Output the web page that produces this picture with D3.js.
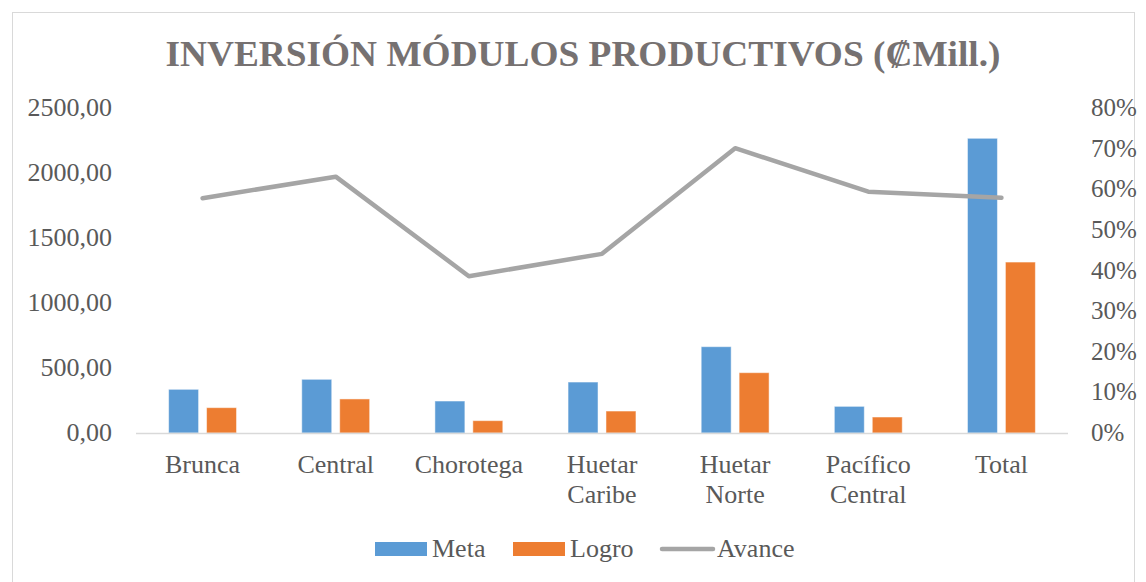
<!DOCTYPE html>
<html>
  <head>
    <meta charset="utf-8">
    <script src="https://d3js.org/d3.v7.min.js"></script>
    <style>
      body { margin: 0; background: #fff; }
      text { font-family: "Liberation Serif", "Times New Roman", serif; fill: #595959; }
    </style>
  </head>
  <body>
    <script>

    const categories = [["Brunca"], ["Central"], ["Chorotega"], ["Huetar", "Caribe"], ["Huetar", "Norte"], ["Pacífico", "Central"], ["Total"]];
    const meta = [336, 413, 246, 392, 664, 205, 2267];
    const logro = [195, 262, 95, 169, 464, 123, 1315];
    const avance = [0.578, 0.631, 0.386, 0.441, 0.701, 0.594, 0.579];
    const leftTicks = [0, 500, 1000, 1500, 2000, 2500];
    const rightTicks = [0, 0.1, 0.2, 0.3, 0.4, 0.5, 0.6, 0.7, 0.8];
    const seriesNames = ["Meta", "Logro", "Avance"];
    const colors = ["#5B9BD5", "#ED7D31", "#A5A5A5"];

    const width = 1146, height = 582;
    const plotLeft = 136, plotRight = 1068, plotTop = 108, plotBottom = 433;

    const svg = d3.select("body").append("svg")
        .attr("width", width)
        .attr("height", height);

    // chart frame
    svg.append("rect")
        .attr("x", 12.5).attr("y", 12.5)
        .attr("width", 1122).attr("height", 600)
        .attr("fill", "none")
        .attr("stroke", "#D9D9D9");

    svg.append("text")
        .attr("x", 583).attr("y", 66)
        .attr("text-anchor", "middle")
        .attr("textLength", 835)
        .attr("lengthAdjust", "spacingAndGlyphs")
        .style("font-size", "35px")
        .style("font-weight", "bold")
        .style("fill", "#767171")
        .text("INVERSIÓN MÓDULOS PRODUCTIVOS (₡Mill.)");

    const idx = d3.range(categories.length);

    const x0 = d3.scaleBand()
        .domain(idx)
        .range([plotLeft, plotRight])
        .paddingInner(0.49)
        .paddingOuter(0.245);

    const x1 = d3.scaleBand()
        .domain([0, 1])
        .range([0, x0.bandwidth()])
        .paddingInner(0.21);

    const y = d3.scaleLinear().domain([0, 2500]).range([plotBottom, plotTop]);
    const y2 = d3.scaleLinear().domain([0, 0.8]).range([plotBottom, plotTop]);

    // left axis
    svg.append("g")
      .selectAll("text")
      .data(leftTicks)
      .join("text")
        .attr("x", 112)
        .attr("y", d => y(d))
        .attr("dy", "0.32em")
        .attr("text-anchor", "end")
        .style("font-size", "26px")
        .text(d => d3.format(".2f")(d).replace(".", ","));

    // right axis
    svg.append("g")
      .selectAll("text")
      .data(rightTicks)
      .join("text")
        .attr("x", 1091)
        .attr("y", d => y2(d))
        .attr("dy", "0.32em")
        .attr("text-anchor", "start")
        .style("font-size", "25px")
        .text(d => d3.format(".0%")(d));

    // bars
    [meta, logro].forEach((vals, s) => {
      svg.append("g")
        .selectAll("rect")
        .data(vals)
        .join("rect")
          .attr("x", (d, i) => x0(i) + x1(s))
          .attr("y", d => y(d))
          .attr("width", x1.bandwidth())
          .attr("height", d => plotBottom - y(d))
          .attr("fill", colors[s])
          .attr("stroke", "#fff")
          .attr("stroke-opacity", 0.5)
          .attr("stroke-width", 1);
    });

    // baseline
    svg.append("line")
        .attr("x1", plotLeft).attr("x2", plotRight)
        .attr("y1", plotBottom + 0.5).attr("y2", plotBottom + 0.5)
        .attr("stroke", "#D9D9D9")
        .attr("stroke-width", 1.5);

    // line
    const line = d3.line()
        .x((d, i) => x0(i) + x0.bandwidth() / 2)
        .y(d => y2(d));

    svg.append("path")
        .datum(avance)
        .attr("d", line)
        .attr("fill", "none")
        .attr("stroke", colors[2])
        .attr("stroke-width", 4.5)
        .attr("stroke-linecap", "round")
        .attr("stroke-linejoin", "round");

    // category labels
    const cat = svg.append("g")
      .selectAll("text")
      .data(categories)
      .join("text")
        .attr("text-anchor", "middle")
        .attr("x", (d, i) => x0(i) + x0.bandwidth() / 2)
        .attr("y", 473)
        .style("font-size", "26px");
    cat.selectAll("tspan")
      .data(d => d)
      .join("tspan")
        .attr("x", function() { return d3.select(this.parentNode).attr("x"); })
        .attr("dy", (d, i) => i ? 30 : 0)
        .text(d => d);

    // legend
    const legend = svg.append("g");
    const lx = [375, 513, 660];
    seriesNames.forEach((name, s) => {
      if (s < 2) {
        legend.append("rect")
            .attr("x", lx[s]).attr("y", 542)
            .attr("width", 52).attr("height", 14)
            .attr("fill", colors[s]);
      } else {
        legend.append("line")
            .attr("x1", lx[s] + 2).attr("x2", lx[s] + 53)
            .attr("y1", 549).attr("y2", 549)
            .attr("stroke", colors[s])
            .attr("stroke-width", 4.5)
            .attr("stroke-linecap", "round");
      }
      legend.append("text")
          .attr("x", lx[s] + 57).attr("y", 557)
          .style("font-size", "26px")
          .text(name);
    });

    </script>
  </body>
</html>
